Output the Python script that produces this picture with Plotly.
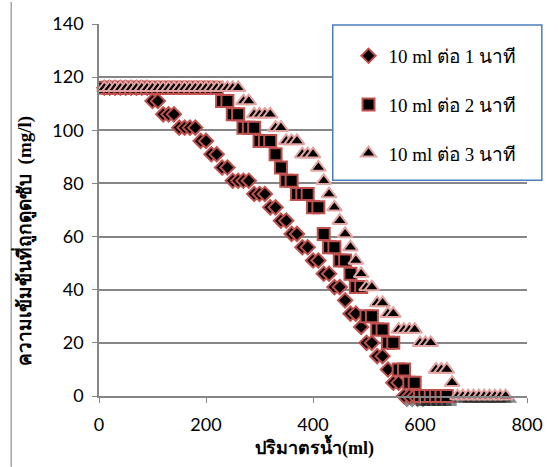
import plotly.graph_objects as go

# ---------------- data ----------------
x_diamond = list(range(10, 610, 10))
y_diamond = ([116]*9 + [111, 111] + [106]*3 + [101]*4 + [96]*2 + [91]*2 + [86]*2 +
             [81]*4 + [76]*3 + [71]*2 + [66]*2 + [61]*2 + [56]*2 + [51]*2 + [46]*2 +
             [41]*2 + [36] + [31]*2 + [26] + [20]*2 + [15]*2 + [10] + [5]*2 + [0]*4)

x_square = list(range(10, 660, 10))
y_square = ([116]*22 + [111]*2 + [106]*2 + [101]*3 + [96]*3 + [91] + [86] + [81]*2 +
            [76]*3 + [71]*2 + [61] + [56]*2 + [51]*2 + [46] + [41]*2 + [30]*2 +
            [25]*2 + [20]*2 + [10]*2 + [5]*2 + [0]*6)

x_triangle = list(range(10, 770, 10))
y_triangle = ([116]*26 + [111]*2 + [106]*4 + [101]*2 + [96]*3 + [91]*3 + [86] + [81] +
              [76] + [71] + [66] + [61] + [56] + [51] + [46] + [41]*2 + [35]*2 +
              [31]*2 + [25]*4 + [20]*3 + [10]*3 + [5] + [0]*10)

series_names = ["10 ml ต่อ 1 นาที", "10 ml ต่อ 2 นาที", "10 ml ต่อ 3 นาที"]
x_ticks = [0, 200, 400, 600, 800]
y_ticks = [0, 20, 40, 60, 80, 100, 120, 140]

# ---------------- geometry helpers ----------------
W, H = 558, 467
L, T = 99, 22
PW, PH = 437, 377          # plot area incl. 3px shadow offset
R = W - L - PW
B = H - T - PH
SH = 3                      # shadow offset (px)

def px_x(p):
    return (p - L) / PW

def px_y(p):
    return (T + PH - p) / PH

fig = go.Figure()

series = [
    (x_diamond, y_diamond, "diamond", 11, "#C0504D"),
    (x_square, y_square, "square", 12, "#C0504D"),
    (x_triangle, y_triangle, "triangle-up", 13, "#E3A3A1"),
]

# shadows (lower subplot layer, shifted by a few px)
for xs, ys, sym, sz, lc in series:
    fig.add_trace(go.Scatter(
        x=xs, y=ys, mode="markers", xaxis="x", yaxis="y", showlegend=False,
        hoverinfo="skip", cliponaxis=False,
        marker=dict(symbol=sym, size=sz + 2, color="rgba(0,0,0,0.45)",
                    line=dict(width=0))))

# real markers
for (xs, ys, sym, sz, lc), name in zip(series, series_names):
    fig.add_trace(go.Scatter(
        x=xs, y=ys, mode="markers", name=name, xaxis="x2", yaxis="y2",
        cliponaxis=False, legendgroup=name,
        marker=dict(symbol=sym, size=sz, color="black",
                    line=dict(width=2, color=lc))))

fig.update_layout(
    width=W, height=H,
    margin=dict(l=L, r=R, t=T, b=B),
    paper_bgcolor="white", plot_bgcolor="white",
    xaxis=dict(domain=[SH / PW, 1], range=[0, 800], visible=False, anchor="y"),
    yaxis=dict(domain=[0, 1 - SH / PH], range=[0, 140], visible=False, anchor="x"),
    xaxis2=dict(domain=[0, 1 - SH / PW], range=[0, 800], anchor="y2",
                tickvals=x_ticks, ticks="outside", ticklen=5, tickcolor="#868686",
                showline=True, linecolor="#868686", linewidth=1.5,
                showgrid=False, zeroline=False, ticklabelstandoff=7,
                tickfont=dict(family="Lato, Carlito, sans-serif", size=18, color="black")),
    yaxis2=dict(domain=[SH / PH, 1], range=[0, 140], anchor="x2",
                tickvals=y_ticks, ticks="outside", ticklen=5, tickcolor="#868686",
                showline=True, linecolor="#868686", linewidth=1.5,
                showgrid=True, gridcolor="#868686", gridwidth=1.5, zeroline=False,
                ticklabelstandoff=5,
                tickfont=dict(family="Lato, Carlito, sans-serif", size=18, color="black")),
    legend=dict(x=px_x(352), y=px_y(35), xanchor="left", yanchor="top",
                bgcolor="rgba(0,0,0,0)", borderwidth=0, tracegroupgap=21,
                font=dict(family="Times New Roman, Liberation Serif, serif", size=19,
                          color="black")),
    shapes=[
        dict(type="rect", xref="paper", yref="paper",
             x0=px_x(336), x1=px_x(548), y0=px_y(179), y1=px_y(23),
             fillcolor="white", line=dict(color="#4A7EBB", width=1.5), layer="above"),
        dict(type="line", xref="paper", yref="paper",
             x0=px_x(10), x1=px_x(10), y0=px_y(0), y1=px_y(467),
             line=dict(color="#A6A6A6", width=1.5)),
    ],
    annotations=[
        dict(text="<b>ความเข้มข้นที่ถูกดูดซับ  (mg/l)</b>", textangle=-90,
             xref="paper", yref="paper", x=px_x(23), y=px_y(240),
             showarrow=False, xanchor="center", yanchor="middle",
             font=dict(family="Times New Roman, Liberation Serif, serif", size=19, color="black")),
        dict(text="<b>ปริมาตรน้ำ(ml)</b>",
             xref="paper", yref="paper", x=px_x(318), y=px_y(447),
             showarrow=False, xanchor="center", yanchor="middle",
             font=dict(family="Times New Roman, Liberation Serif, serif", size=18, color="black")),
    ],
)

fig.write_html("out.html")
